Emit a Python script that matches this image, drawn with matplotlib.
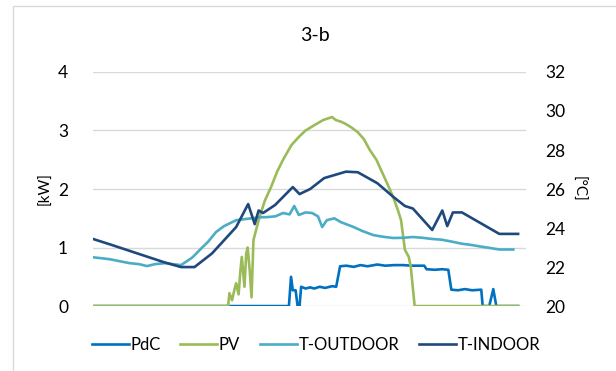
import matplotlib.pyplot as plt
from matplotlib.patches import Rectangle

# hours of the day
pdc_t = [0, 7.74, 11.06, 11.18, 11.28, 11.44, 11.55, 11.66, 11.75, 12.0, 12.26, 12.49, 12.8,
         13.1, 13.5, 13.73, 13.95, 14.3, 14.72, 15.1, 15.5, 16.05, 16.5, 17.0, 17.5, 18.0,
         18.70, 18.83, 19.3, 19.7, 20.06, 20.23, 20.6, 21.0, 21.4, 21.92, 22.0, 22.37,
         22.60, 22.77, 24.0]
pdc_kw = [0, 0, 0, 0.50, 0.27, 0.27, 0, 0, 0.33, 0.30, 0.32, 0.30, 0.33,
          0.31, 0.34, 0.33, 0.68, 0.69, 0.67, 0.70, 0.68, 0.71, 0.69, 0.70, 0.70, 0.69,
          0.69, 0.63, 0.62, 0.63, 0.62, 0.28, 0.27, 0.29, 0.27, 0.28, 0, 0,
          0.29, 0, 0]

pv_t = [0, 7.63, 7.7, 7.85, 8.0, 8.08, 8.22, 8.32, 8.40, 8.55, 8.65, 8.73, 8.85, 8.95,
        9.06, 9.4, 9.7, 10.06, 10.4, 10.73, 11.2, 11.62, 12.0, 12.49, 13.0, 13.5, 13.7,
        14.0, 14.28, 14.6, 14.95, 15.3, 15.62, 16.0, 16.27, 16.6, 16.95, 17.2, 17.39,
        17.61, 17.83, 17.94, 18.16, 24.0]
pv_kw = [0, 0, 0.22, 0.10, 0.30, 0.39, 0.20, 0.60, 0.84, 0.33, 0.90, 1.00, 0.60, 0.15,
         1.13, 1.52, 1.80, 2.04, 2.30, 2.50, 2.75, 2.89, 3.00, 3.09, 3.18, 3.23, 3.18,
         3.15, 3.11, 3.05, 2.97, 2.85, 2.67, 2.50, 2.32, 2.10, 1.86, 1.65, 1.47,
         0.96, 0.84, 0.67, 0, 0]

tout_t = [0, 0.5, 0.96, 1.5, 2.07, 2.6, 3.05, 3.5, 4.07, 4.5, 4.97, 5.3, 5.62, 6.16,
          6.5, 6.95, 7.4, 8.08, 8.5, 8.95, 9.4, 9.83, 10.3, 10.73, 11.1, 11.36, 11.62,
          12.0, 12.37, 12.7, 12.94, 13.2, 13.62, 14.0, 14.72, 15.2, 15.82, 16.4, 16.95,
          17.5, 18.06, 18.6, 19.15, 19.7, 20.28, 20.8, 21.38, 21.9, 22.26, 22.94, 23.73]
tout_c = [22.5, 22.45, 22.4, 22.3, 22.2, 22.15, 22.05, 22.15, 22.2, 22.15, 22.1, 22.3, 22.5, 23.0,
          23.3, 23.8, 24.1, 24.4, 24.45, 24.5, 24.55, 24.56, 24.6, 24.77, 24.7, 25.13, 24.67,
          24.8, 24.77, 24.6, 24.05, 24.4, 24.5, 24.3, 24.05, 23.85, 23.64, 23.55, 23.49,
          23.5, 23.54, 23.5, 23.44, 23.4, 23.3, 23.2, 23.13, 23.05, 23.0, 22.9, 22.9]

tin_t = [0, 1.0, 2.0, 3.0, 4.0, 4.97, 5.73, 6.72, 8.08, 8.76, 9.13, 9.35, 9.60, 10.28,
         11.28, 11.66, 12.26, 13.05, 14.28, 14.95, 16.05, 16.95, 17.61, 18.06, 19.15,
         19.72, 20.0, 20.32, 20.83, 22.94, 24.0]
tin_c = [23.44, 23.15, 22.85, 22.55, 22.25, 22.0, 22.0, 22.7, 24.05, 25.23, 24.2, 24.9, 24.77, 25.18,
         26.1, 25.74, 26.0, 26.56, 26.89, 26.86, 26.3, 25.6, 25.13, 25.0, 23.9,
         24.9, 24.1, 24.8, 24.8, 23.7, 23.7]

series_names = ['PdC', 'PV', 'T-OUTDOOR', 'T-INDOOR']
colors = ['#0070C0', '#9BBB59', '#4BACC6', '#1F497D']

plt.rcParams['font.family'] = ['Lato', 'DejaVu Sans']

fig = plt.figure(figsize=(6.16, 3.71), dpi=100)
ax = fig.add_axes([0.151, 0.175, 0.703, 0.631])
ax2 = ax.twinx()

lw = 1.9
l1, = ax.plot(pdc_t, pdc_kw, color=colors[0], lw=lw, zorder=3)
l2, = ax.plot(pv_t, pv_kw, color=colors[1], lw=lw, zorder=4)
l3, = ax2.plot(tout_t, tout_c, color=colors[2], lw=lw)
l4, = ax2.plot(tin_t, tin_c, color=colors[3], lw=lw)

ax.set_xlim(0, 24.45)
ax.set_ylim(0, 4)
ax.set_yticks([0, 1, 2, 3, 4])
ax2.set_ylim(20, 32)
ax2.set_yticks(range(20, 33, 2))
ax.set_xticks([])
ax.grid(axis='y', color='#D9D9D9', lw=1)
ax.set_axisbelow(True)
for a in (ax, ax2):
    for s in a.spines.values():
        s.set_visible(False)
    a.tick_params(length=0, labelsize=12.5, colors='#000000')
ax.tick_params(axis='y', pad=18)
ax2.tick_params(axis='y', pad=14)

ax.set_ylabel('[kW]', fontsize=11, labelpad=4)
ax2.set_ylabel('[°C]', fontsize=11, rotation=270, labelpad=14)

fig.text(0.511, 0.905, '3-b', ha='center', va='center', fontsize=14)

fig.legend([l1, l2, l3, l4], series_names, loc='center', bbox_to_anchor=(0.513, 0.07),
           ncol=4, frameon=False, fontsize=12, handlelength=2.2, handletextpad=0.1,
           columnspacing=1.2)

fig.patches.append(Rectangle((0.021, -0.01), 1.0, 0.995, transform=fig.transFigure,
                             fill=False, edgecolor='#D9D9D9', lw=1))

fig.savefig('out.png', dpi=100)
